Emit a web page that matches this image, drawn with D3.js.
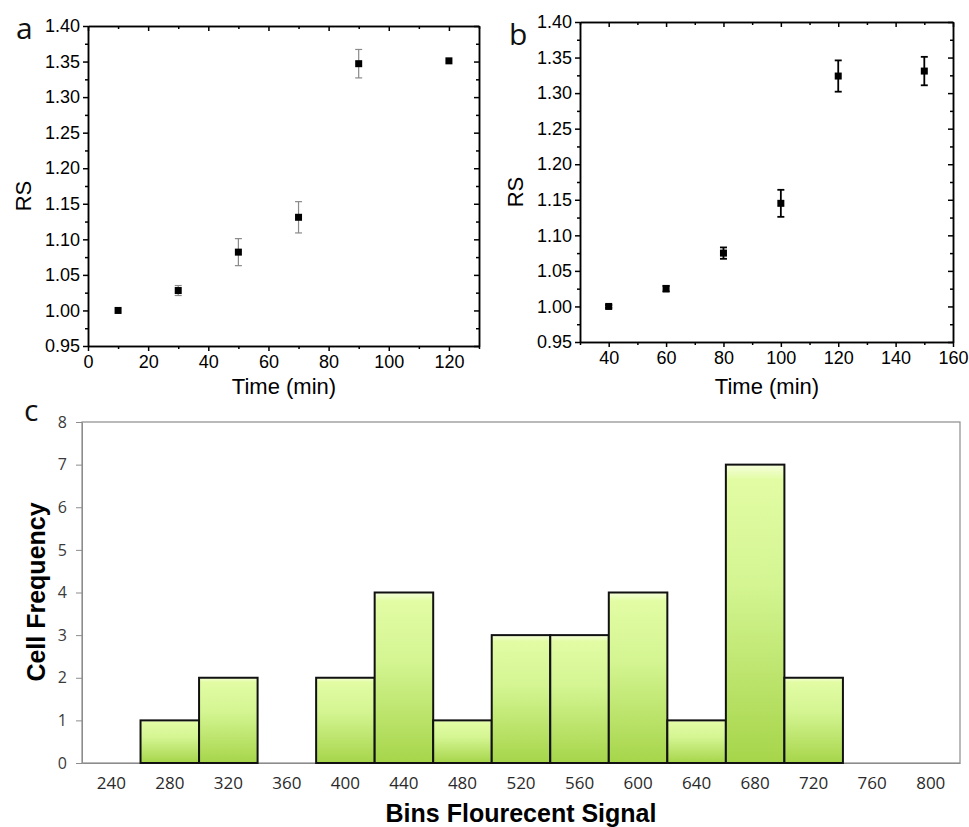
<!DOCTYPE html>
<html>
<head>
<meta charset="utf-8">
<script src="https://cdn.jsdelivr.net/npm/d3@7"></script>
<style>
    body { margin: 0; background: #fff; }
    .panel-letter { font-family: "Open Sans", sans-serif; font-size: 30px; fill: #111; }
    .axis-title { font-family: "Liberation Sans", Arial, sans-serif; font-size: 22px; fill: #000; }
    .hist-title { font-family: "Liberation Sans", Arial, sans-serif; font-size: 25px; font-weight: bold; fill: #000; }
</style>
</head>
<body>
<div id="graphic"></div>
<script>
// Panel a values
const timeA = [10, 30, 50, 70, 90, 120];
const rsA = [1.000, 1.028, 1.082, 1.131, 1.347, 1.351];
const errA = [0.000, 0.007, 0.019, 0.022, 0.020, 0.000];

// Panel b values
const timeB = [40, 60, 80, 100, 120, 150];
const rsB = [1.000, 1.025, 1.075, 1.145, 1.324, 1.331];
const errB = [0.002, 0.004, 0.008, 0.019, 0.022, 0.020];

// Panel c histogram
const bins = ['240', '280', '320', '360', '400', '440', '480', '520', '560', '600', '640', '680', '720', '760', '800'];
const counts = [0, 1, 2, 0, 2, 4, 1, 3, 3, 4, 1, 7, 2, 0, 0];

(function(d3){

    let width = 969, height = 827;
    let tickFont = '"Liberation Sans", Arial, sans-serif';

    let svg = d3.select('#graphic')
                .append('svg')
                .attr('width', width)
                .attr('height', height);

    // Gradient for the histogram bars
    let grad = svg.append('defs').append('linearGradient')
        .attr('id', 'barFill')
        .attr('x1', 0).attr('y1', 0).attr('x2', 0).attr('y2', 1);
    [['0%', '#f6ffdc'], ['5%', '#e2fca4'], ['40%', '#d4f592'], ['100%', '#a6d54a']]
        .forEach(s => grad.append('stop').attr('offset', s[0]).attr('stop-color', s[1]));

    function range(a, b, step) {
        return d3.range(a, b + step / 2, step).map(v => +v.toFixed(4));
    }

    // Origin-style scatter panel with error bars
    function drawScatter(box, xs, ys, errs, xDomain, xMajor, xMinor, errColor, errWidth) {
        let x = d3.scaleLinear().domain(xDomain).range([box.left, box.right]);
        let y = d3.scaleLinear().domain([0.95, 1.40]).range([box.bottom, box.top]);

        let yMajor = range(0.95, 1.40, 0.05);
        let yMinor = range(0.975, 1.375, 0.05);

        let g = svg.append('g');

        // bottom: outward ticks with labels
        g.append('g')
            .attr('transform', `translate(0,${box.bottom})`)
            .call(d3.axisBottom(x).tickValues(xMajor).tickSize(5).tickSizeOuter(0).tickPadding(4))
            .attr('font-family', tickFont)
            .call(a => a.selectAll('text').attr('font-size', 18).attr('fill', '#000'));
        g.append('g')
            .attr('transform', `translate(0,${box.bottom})`)
            .call(d3.axisBottom(x).tickValues(xMinor).tickSize(3).tickSizeOuter(0).tickFormat(''));

        // left: outward ticks with labels
        g.append('g')
            .attr('transform', `translate(${box.left},0)`)
            .call(d3.axisLeft(y).tickValues(yMajor).tickFormat(d3.format('.2f')).tickSize(5).tickSizeOuter(0).tickPadding(3))
            .attr('font-family', tickFont)
            .call(a => a.selectAll('text').attr('font-size', 18).attr('fill', '#000'));
        g.append('g')
            .attr('transform', `translate(${box.left},0)`)
            .call(d3.axisLeft(y).tickValues(yMinor).tickSize(3).tickSizeOuter(0).tickFormat(''));

        // top and right mirror axes, ticks inward
        g.append('g')
            .attr('transform', `translate(0,${box.top})`)
            .call(d3.axisTop(x).tickValues(xMajor).tickSize(-5).tickSizeOuter(0).tickFormat(''));
        g.append('g')
            .attr('transform', `translate(0,${box.top})`)
            .call(d3.axisTop(x).tickValues(xMinor).tickSize(-3).tickSizeOuter(0).tickFormat(''));
        g.append('g')
            .attr('transform', `translate(${box.right},0)`)
            .call(d3.axisRight(y).tickValues(yMajor).tickSize(-5).tickSizeOuter(0).tickFormat(''));
        g.append('g')
            .attr('transform', `translate(${box.right},0)`)
            .call(d3.axisRight(y).tickValues(yMinor).tickSize(-3).tickSizeOuter(0).tickFormat(''));

        g.selectAll('.domain, .tick line').attr('stroke', '#000').attr('stroke-width', 1.5);

        // error bars
        xs.forEach((t, i) => {
            if (errs[i] <= 0) return;
            let cx = x(t), y0 = y(ys[i] - errs[i]), y1 = y(ys[i] + errs[i]);
            g.append('line').attr('x1', cx).attr('x2', cx).attr('y1', y0).attr('y2', y1)
                .attr('stroke', errColor).attr('stroke-width', errWidth);
            [y0, y1].forEach(yy => {
                g.append('line').attr('x1', cx - 3.5).attr('x2', cx + 3.5).attr('y1', yy).attr('y2', yy)
                    .attr('stroke', errColor).attr('stroke-width', errWidth);
            });
        });

        // square markers
        xs.forEach((t, i) => {
            g.append('rect')
                .attr('x', x(t) - 3.5).attr('y', y(ys[i]) - 3.5)
                .attr('width', 7).attr('height', 7)
                .attr('fill', '#000');
        });

        return g;
    }

    // Panel a
    drawScatter({ left: 88, right: 479, top: 26, bottom: 346 },
        timeA, rsA, errA, [0, 130], range(0, 120, 20), range(10, 130, 20), '#8a8a8a', 1.2);

    svg.append('text').attr('class', 'panel-letter').attr('x', 16).attr('y', 39).text('a');
    svg.append('text').attr('class', 'axis-title')
        .attr('x', 284).attr('y', 394).attr('text-anchor', 'middle').text('Time (min)');
    svg.append('text').attr('class', 'axis-title')
        .attr('transform', 'translate(31,196) rotate(-90)').attr('text-anchor', 'middle').text('RS');

    // Panel b
    drawScatter({ left: 580, right: 953, top: 22, bottom: 342 },
        timeB, rsB, errB, [30, 160], range(40, 160, 20), range(30, 150, 20), '#000', 1.8);

    svg.append('text').attr('class', 'panel-letter').attr('x', 509).attr('y', 45).text('b');
    svg.append('text').attr('class', 'axis-title')
        .attr('x', 767).attr('y', 394).attr('text-anchor', 'middle').text('Time (min)');
    svg.append('text').attr('class', 'axis-title')
        .attr('transform', 'translate(523,192) rotate(-90)').attr('text-anchor', 'middle').text('RS');

    // Panel c: histogram
    let cBox = { left: 82, right: 960, top: 422, bottom: 763 };
    let xc = d3.scaleBand().domain(bins).range([cBox.left, cBox.right]).padding(0);
    let yc = d3.scaleLinear().domain([0, 8]).range([cBox.bottom, cBox.top]);

    let gc = svg.append('g');

    // frame
    gc.append('rect')
        .attr('x', cBox.left).attr('y', cBox.top)
        .attr('width', cBox.right - cBox.left).attr('height', cBox.bottom - cBox.top)
        .attr('fill', 'none').attr('stroke', '#8c8c8c').attr('stroke-width', 1.2);

    gc.append('g')
        .attr('transform', `translate(${cBox.left},0)`)
        .call(d3.axisLeft(yc).ticks(8).tickSize(6).tickSizeOuter(0).tickPadding(9))
        .attr('font-family', '"Open Sans", sans-serif')
        .call(a => {
            a.select('.domain').attr('stroke', '#8c8c8c');
            a.selectAll('.tick line').attr('stroke', '#8c8c8c');
            a.selectAll('text').attr('font-size', 16).attr('fill', '#3a3a3a');
        });

    gc.append('g')
        .attr('transform', `translate(0,${cBox.bottom})`)
        .call(d3.axisBottom(xc).tickSize(0).tickPadding(14))
        .attr('font-family', '"Open Sans", sans-serif')
        .call(a => {
            a.select('.domain').attr('stroke', '#8c8c8c');
            a.selectAll('text').attr('font-size', 17).attr('fill', '#2a2a2a');
        });

    gc.selectAll('.bar')
        .data(bins.map((b, i) => ({ bin: b, n: counts[i] })).filter(d => d.n > 0))
        .enter().append('rect')
        .attr('class', 'bar')
        .attr('x', d => xc(d.bin))
        .attr('y', d => yc(d.n))
        .attr('width', xc.bandwidth())
        .attr('height', d => yc(0) - yc(d.n))
        .attr('fill', 'url(#barFill)')
        .attr('stroke', '#111')
        .attr('stroke-width', 2);

    svg.append('text').attr('class', 'panel-letter').attr('x', 24).attr('y', 421).text('c');
    svg.append('text').attr('class', 'hist-title')
        .attr('x', 521).attr('y', 822).attr('text-anchor', 'middle').text('Bins Flourecent Signal');
    svg.append('text').attr('class', 'hist-title')
        .attr('transform', 'translate(45,592) rotate(-90)').attr('text-anchor', 'middle').text('Cell Frequency');

})(window.d3);
</script>
</body>
</html>
